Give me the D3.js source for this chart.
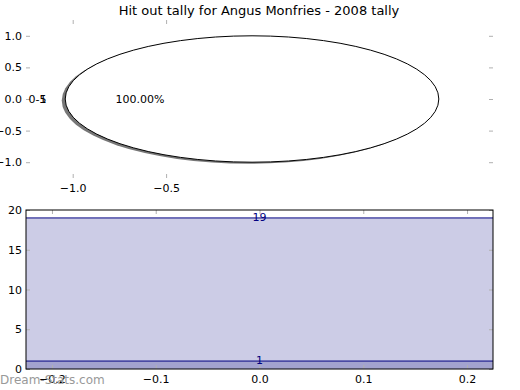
<!DOCTYPE html>
<html>
<head>
<meta charset="utf-8">
<script src="https://cdn.jsdelivr.net/npm/d3@7"></script>
<style>
  body { margin: 0; background: #fff; }
  text { font-family: 'DejaVu Sans', sans-serif; }
</style>
</head>
<body>
<div id="chart"></div>
<script>
// Chart data
const title = 'Hit out tally for Angus Monfries - 2008 tally';
const pieLabels = ['0-5', '1'];
const pieValues = [1];
const pieCentre = [-0.04, 0];
const pieXTicks = [-1.0, -0.5];
const pieYTicks = [-1.0, -0.5, 0.0, 0.5, 1.0];

const tallyValues = [1, 19];
const tallyXTicks = [-0.2, -0.1, 0.0, 0.1, 0.2];
const tallyYTicks = [0, 5, 10, 15, 20];

const width = 520;
const height = 390;
const fmt = (d) => d3.format('.1f')(d).replace('-', '\u2212');

const svg = d3
  .select('#chart')
  .append('svg')
  .attr('width', width)
  .attr('height', height);

// Title
svg
  .append('text')
  .attr('x', 259)
  .attr('y', 15)
  .attr('text-anchor', 'middle')
  .attr('font-size', 13)
  .text(title);

// ---------- Top panel: pie ----------
const pieBox = { left: 26, right: 493, top: 20, bottom: 178 };
const px = d3.scaleLinear().domain([-1.25, 1.25]).range([pieBox.left, pieBox.right]);
const py = d3.scaleLinear().domain([-1.25, 1.25]).range([pieBox.bottom, pieBox.top]);

const tickColor = '#b0b0b0';

// ticks (no frame)
const pAxes = svg.append('g');
pAxes.append('g')
  .attr('transform', `translate(0,${pieBox.bottom})`)
  .call(d3.axisBottom(px).tickValues(pieXTicks).tickSize(-4).tickPadding(6).tickFormat(fmt));
pAxes.append('g')
  .attr('transform', `translate(0,${pieBox.top})`)
  .call(d3.axisTop(px).tickValues(pieXTicks).tickSize(-4).tickFormat(''));
pAxes.append('g')
  .attr('transform', `translate(${pieBox.left},0)`)
  .call(d3.axisLeft(py).tickValues(pieYTicks).tickSize(-4).tickPadding(4).tickFormat(fmt));
pAxes.append('g')
  .attr('transform', `translate(${pieBox.right},0)`)
  .call(d3.axisRight(py).tickValues(pieYTicks).tickSize(-4).tickFormat(''));
pAxes.selectAll('.domain').remove();
pAxes.selectAll('.tick line').attr('stroke', tickColor);
pAxes.selectAll('.tick text').attr('fill', '#000').attr('font-size', 11)
  .attr('font-family', 'DejaVu Sans, sans-serif');

// pie with one slice (drawn as ellipse because axes are not equal)
const total = d3.sum(pieValues);
const rx = px(1) - px(0);
const ry = py(0) - py(1);
const cx = px(pieCentre[0]);
const cy = py(pieCentre[1]);

svg.append('ellipse')
  .attr('cx', cx - 3.5)
  .attr('cy', cy + 1.5)
  .attr('rx', rx)
  .attr('ry', ry)
  .attr('fill', '#4a4a4a')
  .attr('opacity', 0.75);

svg.append('ellipse')
  .attr('cx', cx)
  .attr('cy', cy)
  .attr('rx', rx)
  .attr('ry', ry)
  .attr('fill', '#fff')
  .attr('stroke', '#000')
  .attr('stroke-width', 1);

// percentage label
svg.append('text')
  .attr('x', px(pieCentre[0] - 0.6))
  .attr('y', cy)
  .attr('dy', '0.35em')
  .attr('text-anchor', 'middle')
  .attr('font-size', 11)
  .text(d3.format('.2f')((pieValues[0] / total) * 100) + '%');

// slice labels (overlapping)
pieLabels.forEach((l) => {
  svg.append('text')
    .attr('x', px(pieCentre[0] - 1.1))
    .attr('y', cy)
    .attr('dy', '0.35em')
    .attr('text-anchor', 'end')
    .attr('font-size', 11)
    .text(l);
});

// ---------- Bottom panel: tally ----------
const bot = { left: 26, right: 493, top: 210, bottom: 369 };
const bx = d3.scaleLinear().domain([-0.225, 0.225]).range([bot.left, bot.right]);
const by = d3.scaleLinear().domain([0, 20]).range([bot.bottom, bot.top]);

const [low, high] = tallyValues;

// filled bands
svg.append('rect')
  .attr('x', bx(-0.225))
  .attr('y', by(high))
  .attr('width', bx(0.225) - bx(-0.225))
  .attr('height', by(low) - by(high))
  .attr('fill', '#cccce6');
svg.append('rect')
  .attr('x', bx(-0.225))
  .attr('y', by(low))
  .attr('width', bx(0.225) - bx(-0.225))
  .attr('height', by(0) - by(low))
  .attr('fill', '#a3a3cf');

// lines + labels
tallyValues.forEach((v) => {
  svg.append('line')
    .attr('x1', bx(-0.225))
    .attr('x2', bx(0.225))
    .attr('y1', by(v))
    .attr('y2', by(v))
    .attr('stroke', '#000080')
    .attr('stroke-width', 1);
  svg.append('text')
    .attr('x', bx(0))
    .attr('y', by(v))
    .attr('dy', '0.3em')
    .attr('text-anchor', 'middle')
    .attr('font-size', 11)
    .attr('fill', '#000080')
    .text(v);
});

const bAxes = svg.append('g');
bAxes.append('g')
  .attr('transform', `translate(0,${bot.bottom})`)
  .call(d3.axisBottom(bx).tickValues(tallyXTicks).tickSize(-4).tickPadding(6).tickFormat(fmt));
bAxes.append('g')
  .attr('transform', `translate(0,${bot.top})`)
  .call(d3.axisTop(bx).tickValues(tallyXTicks).tickSize(-4).tickFormat(''));
bAxes.append('g')
  .attr('transform', `translate(${bot.left},0)`)
  .call(d3.axisLeft(by).tickValues(tallyYTicks).tickSize(-4).tickPadding(4).tickFormat(d3.format('d')));
bAxes.append('g')
  .attr('transform', `translate(${bot.right},0)`)
  .call(d3.axisRight(by).tickValues(tallyYTicks).tickSize(-4).tickFormat(''));
bAxes.selectAll('.domain').remove();
bAxes.selectAll('.tick line').attr('stroke', tickColor);
bAxes.selectAll('.tick text').attr('fill', '#000').attr('font-size', 11)
  .attr('font-family', 'DejaVu Sans, sans-serif');

// frame
svg.append('rect')
  .attr('x', bot.left)
  .attr('y', bot.top)
  .attr('width', bot.right - bot.left)
  .attr('height', bot.bottom - bot.top)
  .attr('fill', 'none')
  .attr('stroke', '#000')
  .attr('stroke-width', 1);

// watermark
svg.append('text')
  .attr('x', 0)
  .attr('y', 384)
  .attr('font-size', 12)
  .attr('fill', '#999')
  .text('Dream-Stats.com');
</script>
</body>
</html>
